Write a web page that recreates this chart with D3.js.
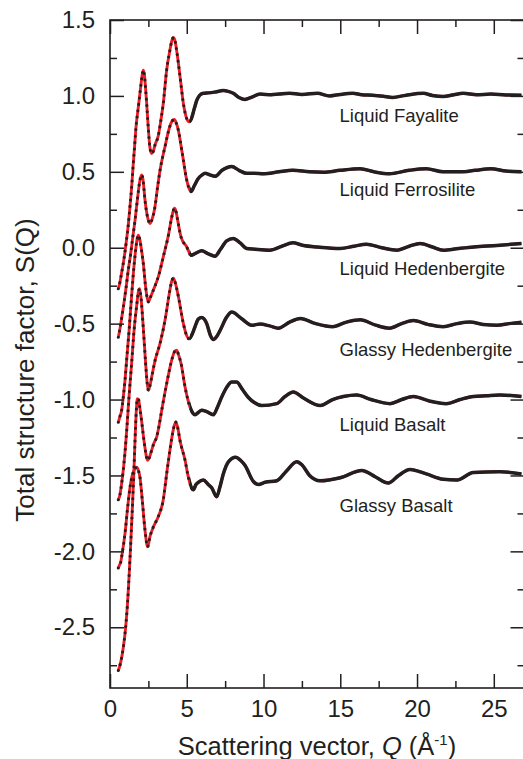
<!DOCTYPE html>
<html lang="en">
<head>
<meta charset="utf-8">
<title>Total structure factor</title>
<script src="https://d3js.org/d3.v7.min.js"></script>
<style>
  body { margin: 0; background: #fff; }
  text { font-family: "Liberation Sans", Arial, sans-serif; fill: #231f20; }
</style>
</head>
<body>
<script>
// data: [Q, S(Q) incl. offset]
var fayalite = [[0.54,-0.27],[0.62,-0.24],[0.75,-0.17],[0.9,-0.08],[1.05,0.03],[1.2,0.16],[1.3,0.27],[1.41,0.40],[1.5,0.53],[1.6,0.665],[1.7,0.80],[1.85,0.93],[2.0,1.06],[2.1,1.14],[2.17,1.17],[2.24,1.14],[2.31,1.06],[2.39,0.95],[2.5,0.78],[2.6,0.66],[2.71,0.62],[2.82,0.635],[2.93,0.676],[3.15,0.74],[3.3,0.83],[3.47,0.95],[3.69,1.17],[3.9,1.30],[4.02,1.36],[4.13,1.385],[4.22,1.37],[4.34,1.30],[4.56,1.13],[4.78,0.95],[5.0,0.85],[5.15,0.83],[5.3,0.85],[5.5,0.92],[5.65,0.97],[5.85,1.005],[6.08,1.017],[6.4,1.02],[6.8,1.025],[7.38,1.035],[7.7,1.03],[8.03,1.017],[8.4,0.99],[8.79,0.977],[9.2,0.99],[9.77,1.012],[10.5,1.008],[11.0,1.012],[11.7,1.017],[12.5,1.01],[13.5,1.017],[14.3,1.0],[15.0,1.01],[15.8,1.017],[16.4,1.008],[17.1,1.005],[17.8,0.998],[18.4,0.99],[19.3,1.005],[20.4,1.017],[21.0,1.003],[21.7,0.996],[22.4,1.008],[23.0,1.017],[23.9,1.008],[24.8,1.012],[25.8,1.006],[26.8,1.005]];

var ferrosilite = [[0.54,-0.59],[0.62,-0.55],[0.75,-0.47],[0.9,-0.37],[1.05,-0.26],[1.2,-0.14],[1.32,-0.06],[1.46,0.05],[1.63,0.18],[1.78,0.313],[1.95,0.445],[2.06,0.48],[2.15,0.45],[2.28,0.313],[2.45,0.2],[2.61,0.16],[2.75,0.19],[2.93,0.27],[3.1,0.4],[3.26,0.51],[3.58,0.665],[3.9,0.80],[4.05,0.835],[4.19,0.845],[4.32,0.82],[4.45,0.775],[4.71,0.62],[5.0,0.445],[5.15,0.39],[5.28,0.37],[5.5,0.41],[5.75,0.456],[6.0,0.48],[6.19,0.49],[6.5,0.48],[6.84,0.47],[7.3,0.51],[7.93,0.535],[8.4,0.51],[8.9,0.49],[9.4,0.49],[10.0,0.487],[11.0,0.5],[11.9,0.51],[13.0,0.5],[13.9,0.497],[15.0,0.51],[16.3,0.52],[17.2,0.5],[18.2,0.487],[19.5,0.51],[20.6,0.52],[21.7,0.5],[22.8,0.5],[23.8,0.51],[24.8,0.52],[25.8,0.505],[26.8,0.5]];

var hedenbergite = [[0.54,-1.15],[0.62,-1.12],[0.76,-1.07],[0.88,-0.97],[0.98,-0.87],[1.1,-0.72],[1.24,-0.55],[1.37,-0.37],[1.52,-0.17],[1.67,-0.016],[1.77,0.06],[1.85,0.083],[1.95,0.05],[2.06,-0.02],[2.17,-0.104],[2.32,-0.258],[2.42,-0.33],[2.5,-0.357],[2.62,-0.33],[2.82,-0.28],[3.15,-0.19],[3.47,-0.06],[3.8,0.08],[4.02,0.20],[4.19,0.26],[4.3,0.24],[4.41,0.18],[4.63,0.07],[5.0,0.005],[5.28,-0.05],[5.6,-0.035],[5.97,-0.02],[6.4,-0.04],[6.84,-0.056],[7.2,-0.01],[7.6,0.045],[8.03,0.061],[8.5,0.03],[8.9,-0.005],[9.45,-0.01],[10.4,-0.016],[11.2,0.01],[11.9,0.032],[12.6,0.015],[13.5,0.005],[15.0,-0.005],[15.9,0.01],[16.7,0.023],[17.7,0.0],[18.7,-0.016],[19.5,0.01],[20.2,0.028],[21.0,0.005],[21.7,-0.016],[22.7,-0.005],[23.7,0.005],[25.2,0.015],[26.8,0.028]];

var glassyHedenbergite = [[0.54,-1.66],[0.62,-1.64],[0.75,-1.56],[0.9,-1.43],[1.0,-1.32],[1.09,-1.2],[1.24,-0.98],[1.41,-0.76],[1.58,-0.53],[1.74,-0.38],[1.85,-0.29],[1.93,-0.27],[2.02,-0.33],[2.17,-0.53],[2.32,-0.76],[2.42,-0.89],[2.5,-0.94],[2.6,-0.91],[2.71,-0.855],[2.93,-0.745],[3.26,-0.63],[3.58,-0.48],[3.9,-0.28],[4.02,-0.22],[4.13,-0.20],[4.25,-0.23],[4.45,-0.32],[4.78,-0.5],[5.0,-0.58],[5.15,-0.60],[5.35,-0.57],[5.54,-0.52],[5.75,-0.47],[5.97,-0.46],[6.3,-0.5],[6.55,-0.58],[6.73,-0.605],[6.95,-0.585],[7.17,-0.545],[7.6,-0.457],[7.93,-0.424],[8.58,-0.468],[9.23,-0.51],[9.77,-0.503],[10.4,-0.515],[10.96,-0.53],[11.7,-0.49],[12.4,-0.466],[13.4,-0.5],[14.5,-0.52],[15.4,-0.49],[16.3,-0.475],[17.3,-0.51],[18.2,-0.53],[19.0,-0.5],[19.76,-0.48],[20.7,-0.505],[21.7,-0.52],[22.6,-0.5],[23.45,-0.49],[24.3,-0.505],[25.2,-0.51],[26.0,-0.5],[26.8,-0.49]];

var liquidBasalt = [[0.54,-2.785],[0.62,-2.76],[0.72,-2.72],[0.87,-2.63],[1.02,-2.50],[1.15,-2.33],[1.24,-2.17],[1.35,-1.95],[1.45,-1.73],[1.55,-1.49],[1.63,-1.27],[1.71,-1.08],[1.78,-0.994],[1.86,-1.0],[1.94,-1.05],[2.02,-1.11],[2.24,-1.29],[2.38,-1.38],[2.45,-1.40],[2.55,-1.385],[2.71,-1.335],[2.85,-1.29],[3.04,-1.247],[3.2,-1.17],[3.37,-1.07],[3.69,-0.896],[4.02,-0.74],[4.2,-0.685],[4.34,-0.675],[4.48,-0.71],[4.63,-0.763],[4.89,-0.917],[5.21,-1.05],[5.4,-1.09],[5.54,-1.10],[5.75,-1.085],[5.97,-1.07],[6.3,-1.08],[6.73,-1.10],[7.0,-1.05],[7.27,-0.985],[7.6,-0.92],[7.93,-0.885],[8.25,-0.885],[8.6,-0.93],[9.0,-0.985],[9.4,-1.02],[9.88,-1.04],[10.86,-1.027],[11.4,-0.98],[11.94,-0.95],[12.6,-0.99],[13.7,-1.04],[14.5,-1.0],[15.2,-0.98],[16.07,-0.97],[17.0,-1.0],[18.24,-1.027],[19.0,-1.0],[19.76,-0.98],[20.8,-1.01],[21.9,-1.027],[22.8,-1.0],[23.67,-0.98],[24.5,-0.975],[25.4,-0.97],[26.8,-0.98]];

var glassyBasalt = [[0.54,-2.11],[0.62,-2.09],[0.7,-2.07],[0.8,-2.01],[0.98,-1.88],[1.15,-1.71],[1.3,-1.58],[1.45,-1.5],[1.6,-1.46],[1.75,-1.445],[1.86,-1.47],[1.95,-1.51],[2.1,-1.66],[2.28,-1.86],[2.45,-1.97],[2.61,-1.9],[2.82,-1.84],[3.15,-1.77],[3.47,-1.66],[3.69,-1.49],[3.91,-1.33],[4.12,-1.2],[4.28,-1.148],[4.4,-1.18],[4.56,-1.27],[4.89,-1.4],[5.1,-1.51],[5.3,-1.58],[5.43,-1.594],[5.6,-1.56],[5.75,-1.545],[6.08,-1.53],[6.4,-1.56],[6.62,-1.58],[6.95,-1.64],[7.15,-1.58],[7.38,-1.49],[7.71,-1.41],[8.19,-1.38],[8.5,-1.4],[8.8,-1.435],[9.34,-1.54],[9.66,-1.56],[10.1,-1.545],[10.86,-1.535],[11.5,-1.47],[12.16,-1.41],[12.5,-1.43],[13.0,-1.5],[13.68,-1.535],[15.0,-1.515],[16.4,-1.467],[17.3,-1.51],[18.13,-1.55],[18.8,-1.5],[19.54,-1.46],[20.6,-1.49],[21.7,-1.525],[22.6,-1.53],[23.67,-1.48],[25.4,-1.475],[26.8,-1.49]];

var seriesNames = ["Liquid Fayalite", "Liquid Ferrosilite", "Liquid Hedenbergite", "Glassy Hedenbergite", "Liquid Basalt", "Glassy Basalt"];
var seriesData = [fayalite, ferrosilite, hedenbergite, glassyHedenbergite, liquidBasalt, glassyBasalt];
var labelS = [0.83, 0.34, -0.18, -0.71, -1.21, -1.74];
var labelQ = 14.95;

var xMajor = [0, 5, 10, 15, 20, 25];
var xMinor = [2.5, 7.5, 12.5, 17.5, 22.5];
var yMajor = [1.5, 1.0, 0.5, 0.0, -0.5, -1.0, -1.5, -2.0, -2.5];
var yMinor = [1.25, 0.75, 0.25, -0.25, -0.75, -1.25, -1.75, -2.25, -2.75];

var w = 523, h = 759;
var x = d3.scaleLinear().domain([0, 27]).range([110, 524.5]);
var y = d3.scaleLinear().domain([-2.9, 1.5]).range([688, 20]);

var svg = d3.select("body").append("svg")
  .attr("width", w).attr("height", h);

var defs = svg.append("defs");
// dotted look where data points are sparse, solid line where they pile up
defs.append("clipPath").attr("id", "lowQ").append("rect")
  .attr("x", 0).attr("y", 0).attr("width", x(5.2)).attr("height", h);
defs.append("clipPath").attr("id", "highQ").append("rect")
  .attr("x", x(5.2)).attr("y", 0).attr("width", w).attr("height", h);

var line = d3.line()
  .x(function (d) { return x(d[0]); })
  .y(function (d) { return y(d[1]); })
  .curve(d3.curveMonotoneX);

var curves = svg.append("g");
seriesData.forEach(function (data) {
  // red fit
  curves.append("path").attr("d", line(data))
    .attr("fill", "none").attr("stroke", "#ee1d25").attr("stroke-width", 2.9);
  // black experimental points
  curves.append("path").attr("d", line(data))
    .attr("clip-path", "url(#lowQ)")
    .attr("fill", "none").attr("stroke", "#231f20").attr("stroke-width", 3.1)
    .attr("stroke-linecap", "round").attr("stroke-dasharray", "0 6.4");
  curves.append("path").attr("d", line(data))
    .attr("clip-path", "url(#highQ)")
    .attr("fill", "none").attr("stroke", "#231f20").attr("stroke-width", 3.5)
    .attr("stroke-linejoin", "round");
});

// labels
svg.append("g").selectAll("text")
  .data(seriesNames)
  .enter().append("text")
  .attr("x", x(labelQ))
  .attr("y", function (d, i) { return y(labelS[i]); })
  .style("font-size", "18.5px")
  .text(function (d) { return d; });

// axes, ticks pointing inwards on all four sides
function styleAxis(g) {
  g.selectAll("line").attr("stroke", "#231f20").attr("stroke-width", 1.5);
  g.selectAll("path").remove();
  g.selectAll("text").style("font-size", "24px").attr("fill", "#231f20");
}
var fmtY = function (d) { return d.toFixed(1); };

svg.append("g").attr("transform", "translate(0,688)")
  .call(d3.axisBottom(x).tickValues(xMajor).tickSize(-14).tickPadding(12).tickFormat(d3.format("d")))
  .call(styleAxis);
svg.append("g").attr("transform", "translate(0,688)")
  .call(d3.axisBottom(x).tickValues(xMinor).tickSize(-7).tickFormat(""))
  .call(styleAxis);
svg.append("g").attr("transform", "translate(0,20)")
  .call(d3.axisTop(x).tickValues(xMajor).tickSize(-14).tickFormat(""))
  .call(styleAxis);
svg.append("g").attr("transform", "translate(0,20)")
  .call(d3.axisTop(x).tickValues(xMinor).tickSize(-7).tickFormat(""))
  .call(styleAxis);

svg.append("g").attr("transform", "translate(110,0)")
  .call(d3.axisLeft(y).tickValues(yMajor).tickSize(-14).tickPadding(15).tickFormat(fmtY))
  .call(styleAxis);
svg.append("g").attr("transform", "translate(110,0)")
  .call(d3.axisLeft(y).tickValues(yMinor).tickSize(-7).tickFormat(""))
  .call(styleAxis);
svg.append("g").attr("transform", "translate(" + x(27) + ",0)")
  .call(d3.axisRight(y).tickValues(yMajor).tickSize(-14).tickFormat(""))
  .call(styleAxis);
svg.append("g").attr("transform", "translate(" + x(27) + ",0)")
  .call(d3.axisRight(y).tickValues(yMinor).tickSize(-7).tickFormat(""))
  .call(styleAxis);

// frame
svg.append("rect")
  .attr("x", x(0)).attr("y", y(1.5))
  .attr("width", x(27) - x(0)).attr("height", y(-2.9) - y(1.5))
  .attr("fill", "none").attr("stroke", "#231f20").attr("stroke-width", 1.6);

// axis titles
var xt = svg.append("text")
  .attr("x", 317).attr("y", 755)
  .attr("text-anchor", "middle")
  .style("font-size", "25.5px");
xt.append("tspan").text("Scattering vector, ");
xt.append("tspan").style("font-style", "italic").text("Q");
xt.append("tspan").text(" (Å");
xt.append("tspan").attr("dy", -10).style("font-size", "15px").text("-1");
xt.append("tspan").attr("dy", 10).text(")");

svg.append("text")
  .attr("transform", "translate(34,370) rotate(-90)")
  .attr("text-anchor", "middle")
  .style("font-size", "26px")
  .text("Total structure factor, S(Q)");
</script>
</body>
</html>
